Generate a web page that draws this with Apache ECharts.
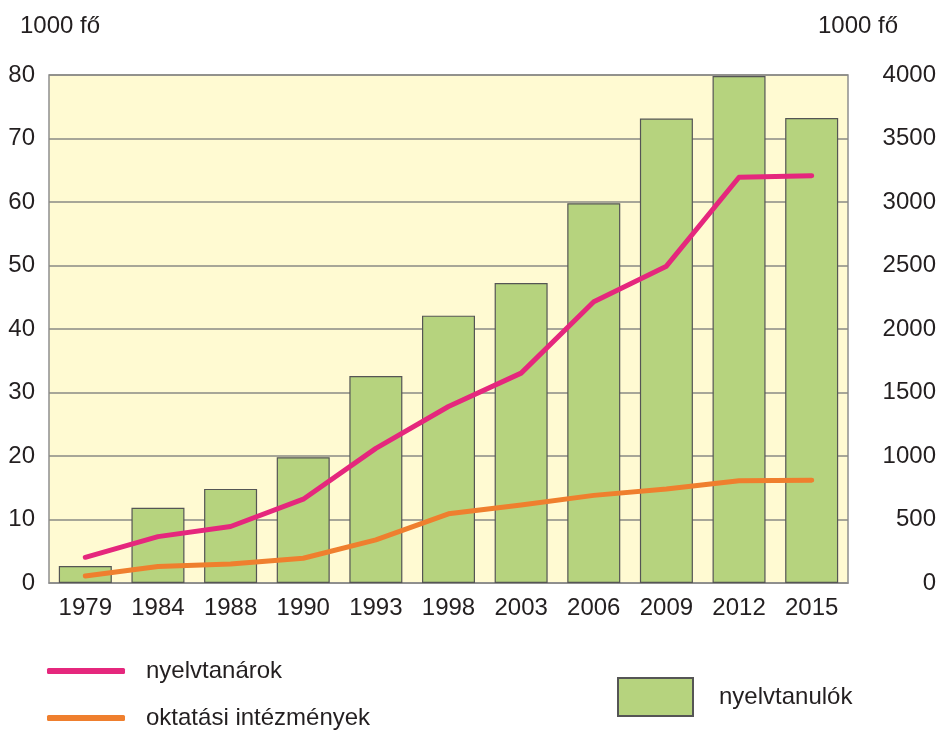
<!DOCTYPE html>
<html><head><meta charset="utf-8">
<script src="https://cdn.jsdelivr.net/npm/echarts@6/dist/echarts.min.js"></script>
<style>html,body{margin:0;padding:0;background:#fff}#c{width:941px;height:733px}</style>
</head><body><div id="c"></div>
<script>
const years = ['1979','1984','1988','1990','1993','1998','2003','2006','2009','2012','2015'];
const nyelvtanulok = [134, 593, 741, 990, 1630, 2105, 2362, 2990, 3657, 3992, 3662];
const nyelvtanarok = [4.05, 7.3, 8.9, 13.2, 21.2, 27.8, 33.05, 44.3, 49.9, 63.9, 64.15];
const intezmenyek = [1.1, 2.6, 3.0, 3.9, 6.8, 10.9, 12.3, 13.8, 14.8, 16.1, 16.2];
const leftTicks = {min:0, max:80, interval:10};
const rightTicks = {min:0, max:4000, interval:500};

const FONT = '"Liberation Sans",Arial,sans-serif';
const FS = 24;
const TXT = '#231f20';
const chart = echarts.init(document.getElementById('c'), null, {renderer:'canvas'});
chart.setOption({
  animation:false,
  backgroundColor:'#ffffff',
  textStyle:{fontFamily:FONT},
  grid:{left:49, right:93, top:75, bottom:150, show:true, backgroundColor:'#fffad2', borderColor:'#8f8f8f', borderWidth:1.5},
  xAxis:{type:'category', data:years, boundaryGap:true,
    axisLine:{lineStyle:{color:'#8f8f8f', width:1.5}},
    axisTick:{inside:true, length:8, lineStyle:{color:'#8f8f8f', width:1.5}},
    axisLabel:{fontFamily:FONT, fontSize:FS, color:TXT, margin:13, interval:0}},
  yAxis:[
    {type:'value', min:leftTicks.min, max:leftTicks.max, interval:leftTicks.interval,
     axisLine:{show:false}, axisTick:{show:false},
     splitLine:{lineStyle:{color:'#8a8a84', width:1.5}},
     axisLabel:{fontFamily:FONT, fontSize:FS, color:TXT, margin:14}},
    {type:'value', position:'right', min:rightTicks.min, max:rightTicks.max, interval:rightTicks.interval,
     axisLine:{show:false}, axisTick:{show:false}, splitLine:{show:false},
     axisLabel:{fontFamily:FONT, fontSize:FS, color:TXT, margin:88, align:'right', formatter:function(v){return String(v);}}}
  ],
  legend:[
    {data:['nyelvtanárok'], left:47, top:659, padding:0, orient:'vertical', icon:'roundRect', itemWidth:78, itemHeight:6,
     textStyle:{fontFamily:FONT, fontSize:FS, color:TXT, padding:[0,0,0,16]}},
    {data:['oktatási intézmények'], left:47, top:706, padding:0, orient:'vertical', icon:'roundRect', itemWidth:78, itemHeight:6,
     textStyle:{fontFamily:FONT, fontSize:FS, color:TXT, padding:[0,0,0,16]}},
    {data:['nyelvtanulók'], left:617, top:677, padding:0, icon:'rect', itemWidth:75, itemHeight:38,
     textStyle:{fontFamily:FONT, fontSize:FS, color:TXT, padding:[0,0,0,21]}}
  ],
  graphic:[
    {type:'text', left:20, top:14, style:{text:'1000 fő', font:FS+'px '+FONT, fill:TXT}},
    {type:'text', left:818, top:14, style:{text:'1000 fő', font:FS+'px '+FONT, fill:TXT}}
  ],
  series:[
    {name:'nyelvtanulók', type:'bar', yAxisIndex:1, data:nyelvtanulok, barWidth:53, z:2,
     itemStyle:{color:'#b6d37e', borderColor:'#555', borderWidth:1.2}},
    {name:'nyelvtanárok', type:'line', yAxisIndex:0, data:nyelvtanarok, showSymbol:false, symbol:'none', z:4,
     lineStyle:{color:'#e5277d', width:5, cap:'round', join:'round'}, itemStyle:{color:'#e5277d'}},
    {name:'oktatási intézmények', type:'line', yAxisIndex:0, data:intezmenyek, showSymbol:false, symbol:'none', z:3,
     lineStyle:{color:'#ef7f2e', width:5, cap:'round', join:'round'}, itemStyle:{color:'#ef7f2e'}}
  ]
});
</script></body></html>
